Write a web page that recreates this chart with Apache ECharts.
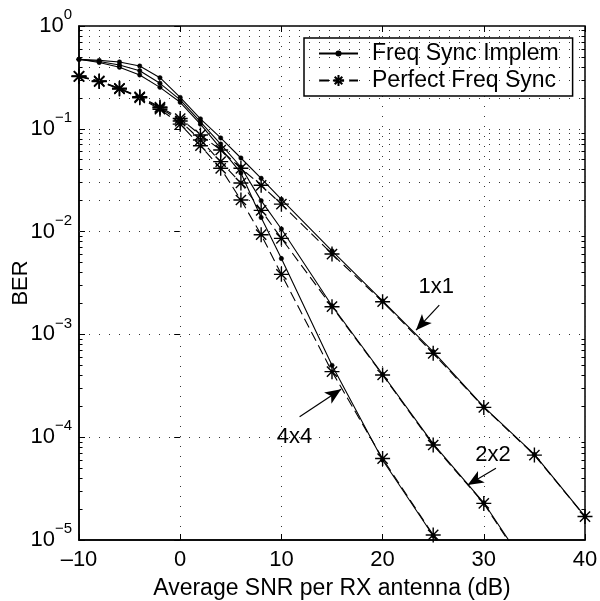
<!DOCTYPE html>
<html>
<head>
<meta charset="utf-8">
<script src="https://cdn.jsdelivr.net/npm/echarts@6/dist/echarts.min.js"></script>
<style>
    html, body { margin: 0; padding: 0; background: #fff; }
    #ber-chart { width: 600px; height: 601px; }
</style>
</head>
<body>
<div id="ber-chart"></div>
<script>
var snr = [-10, -8, -6, -4, -2, 0, 2, 4, 6, 8, 10, 15, 20, 25, 30, 35, 40];

// Freq Sync Implem (solid, dots)
var implem1x1 = [0.474, 0.463, 0.447, 0.408, 0.314, 0.202, 0.125, 0.0815, 0.052, 0.033, 0.0206, 0.0065, 0.00212, 6.8e-4, 1.97e-4, 6.8e-5, 1.7e-5];
var implem2x2 = [0.474, 0.451, 0.418, 0.367, 0.277, 0.191, 0.117, 0.0711, 0.0425, 0.020, 0.0106, 0.0019, 4.1e-4, 8.6e-5, 2.3e-5, 4.2e-6];
var implem4x4 = [0.474, 0.442, 0.397, 0.334, 0.253, 0.181, 0.111, 0.0646, 0.0372, 0.0137, 0.00547, 5.0e-4, 6.0e-5, 1.1e-5, 2.0e-6];

// Perfect Freq Sync (dashed, stars)
var perfect1x1 = [0.326, 0.292, 0.248, 0.205, 0.163, 0.126, 0.0871, 0.0622, 0.0413, 0.0282, 0.0185, 0.00605, 0.00208, 6.55e-4, 1.95e-4, 6.7e-5, 1.69e-5];
var perfect2x2 = [0.324, 0.290, 0.246, 0.203, 0.160, 0.119, 0.0778, 0.0479, 0.0297, 0.0161, 0.0086, 0.00186, 4.03e-4, 8.4e-5, 2.27e-5, 4.0e-6];
var perfect4x4 = [0.322, 0.288, 0.244, 0.200, 0.155, 0.111, 0.0685, 0.0413, 0.0203, 0.00933, 0.00384, 4.34e-4, 6.2e-5, 1.12e-5, 1.8e-6];

var decades = [-5, -4, -3, -2, -1];
var mantissas = [2, 3, 4, 5, 6, 7, 8, 9];

// annotations: label text + position, arrows [from, to]
var annoLabels = [
    {text: '1x1', at: [25.3, 2.89e-3]},
    {text: '2x2', at: [30.9, 6.7e-5]},
    {text: '4x4', at: [11.3, 1.01e-4]}
];
var annoArrows = [
    [[25.6, 1.93e-3], [23.3, 1.10e-3]],
    [[31.2, 4.98e-5], [28.4, 3.43e-5]],
    [[11.8, 1.58e-4], [15.9, 2.92e-4]]
];

var FONT = 'Liberation Sans';
var DOT = 'path://M0 0 M12 12 M6 3.8 A2.2 2.2 0 1 1 6 8.2 A2.2 2.2 0 1 1 6 3.8 Z';
var STAR = 'path://M5 0 L5 10 M0 5 L10 5 M1.6 1.6 L8.4 8.4 M8.4 1.6 L1.6 8.4';

function pairs(ys) {
    var out = [];
    for (var i = 0; i < ys.length; i++) {
        out.push([snr[i], ys[i]]);
    }
    return out;
}

function curve(name, ys, dashed) {
    return {
        name: name,
        type: 'line',
        data: pairs(ys),
        z: 3,
        symbol: dashed ? STAR : DOT,
        symbolSize: dashed ? 15 : 12,
        showAllSymbol: true,
        lineStyle: {color: '#000', width: 1.1, type: dashed ? [10, 5] : 'solid'},
        itemStyle: {color: '#000', borderColor: '#000', borderWidth: dashed ? 1.4 : 0.5},
        emphasis: {disabled: true},
        animation: false
    };
}

var minorLines = [];
var minorTicks = [];
decades.forEach(function (d) {
    mantissas.forEach(function (m) {
        var v = m * Math.pow(10, d);
        minorLines.push({yAxis: v});
        minorTicks.push([{coord: [-10, v]}, {coord: [-9.65, v]}]);
        minorTicks.push([{coord: [39.65, v]}, {coord: [40, v]}]);
    });
});

var arrowData = annoArrows.map(function (a) {
    return [
        {coord: a[0], symbol: 'none'},
        {coord: a[1], symbol: 'arrow', symbolSize: [10, 16]}
    ];
});

var labelData = annoLabels.map(function (l) {
    return {
        coord: l.at,
        symbolSize: 0,
        label: {show: true, position: 'inside', formatter: l.text, fontSize: 22, fontFamily: FONT, color: '#000'}
    };
});

function expLabel(v) {
    var e = Math.round(Math.log10(v));
    var s = e < 0 ? '\u2212' + (-e) : String(e);
    return '{b|10}{s|' + s + '}';
}

var dotted = {color: '#333', width: 1, type: [1, 9]};

var option = {
    backgroundColor: '#fff',
    animation: false,
    grid: {left: 79, right: 15, top: 26, bottom: 61, show: true, borderColor: '#000', borderWidth: 1.5, outerBoundsMode: 'none'},
    legend: {
        data: ['Freq Sync Implem', 'Perfect Freq Sync'],
        orient: 'vertical',
        left: 304,
        top: 38,
        padding: [4, 14, 4, 14],
        itemGap: 4,
        itemWidth: 39,
        itemHeight: 14,
        backgroundColor: '#fff',
        borderColor: '#000',
        borderWidth: 1.5,
        borderRadius: 0,
        selectedMode: false,
        textStyle: {fontSize: 23, fontFamily: FONT, color: '#000', lineHeight: 23, padding: [0, 0, 0, 9]}
    },
    xAxis: [{
        type: 'value',
        min: -10,
        max: 40,
        interval: 10,
        name: 'Average SNR per RX antenna (dB)',
        nameLocation: 'middle',
        nameGap: 37,
        nameMoveOverlap: false,
        nameTextStyle: {fontSize: 23, fontFamily: FONT, color: '#000'},
        axisLine: {onZero: false, lineStyle: {color: '#000', width: 1.5}},
        axisTick: {inside: true, length: 6, lineStyle: {color: '#000'}},
        axisLabel: {
            margin: 9, fontSize: 22, fontFamily: FONT, color: '#000',
            formatter: function (v) { return v < 0 ? '\u2013' + (-v) : String(v); }
        },
        splitLine: {show: true, lineStyle: dotted}
    }, {
        type: 'value',
        position: 'top',
        min: -10,
        max: 40,
        interval: 10,
        axisLine: {show: false},
        axisTick: {inside: true, length: 6, lineStyle: {color: '#000'}},
        axisLabel: {show: false},
        splitLine: {show: false}
    }],
    yAxis: [{
        type: 'log',
        logBase: 10,
        min: 1e-5,
        max: 1,
        name: 'BER',
        nameLocation: 'middle',
        nameGap: 47,
        nameMoveOverlap: false,
        nameRotate: 90,
        nameTextStyle: {fontSize: 22, fontFamily: FONT, color: '#000'},
        axisLine: {show: true, onZero: false, lineStyle: {color: '#000', width: 1.5}},
        axisTick: {inside: true, length: 6, lineStyle: {color: '#000'}},
        axisLabel: {
            margin: 7,
            formatter: expLabel,
            rich: {
                b: {fontSize: 22, fontFamily: FONT, color: '#000', lineHeight: 22, verticalAlign: 'middle'},
                s: {fontSize: 15, fontFamily: FONT, color: '#000', lineHeight: 15, padding: [0, 0, 22, 0], verticalAlign: 'middle'}
            }
        },
        splitLine: {show: true, lineStyle: dotted}
    }, {
        type: 'log',
        logBase: 10,
        min: 1e-5,
        max: 1,
        position: 'right',
        axisLine: {show: false},
        axisTick: {inside: true, length: 6, lineStyle: {color: '#000'}},
        axisLabel: {show: false},
        splitLine: {show: false}
    }],
    series: [
        {
            name: 'grid',
            type: 'line',
            data: [],
            z: 1,
            silent: true,
            markLine: {
                silent: true,
                symbol: 'none',
                label: {show: false},
                lineStyle: dotted,
                animation: false,
                data: minorLines
            }
        },
        {
            name: 'ticks',
            type: 'line',
            data: [],
            z: 2,
            silent: true,
            markLine: {
                silent: true,
                symbol: 'none',
                label: {show: false},
                lineStyle: {color: '#000', width: 1, type: 'solid'},
                animation: false,
                data: minorTicks
            }
        },
        {
            name: 'notes',
            type: 'line',
            data: [],
            z: 4,
            silent: true,
            markLine: {
                silent: true,
                label: {show: false},
                lineStyle: {color: '#000', width: 1.2, type: 'solid'},
                itemStyle: {color: '#000'},
                animation: false,
                data: arrowData
            },
            markPoint: {
                silent: true,
                animation: false,
                itemStyle: {color: 'transparent'},
                data: labelData
            }
        },
        curve('Freq Sync Implem', implem1x1, false),
        curve('Freq Sync Implem', implem2x2, false),
        curve('Freq Sync Implem', implem4x4, false),
        curve('Perfect Freq Sync', perfect1x1, true),
        curve('Perfect Freq Sync', perfect2x2, true),
        curve('Perfect Freq Sync', perfect4x4, true)
    ]
};

var berChart = echarts.init(document.getElementById('ber-chart'));
berChart.setOption(option);
</script>
</body>
</html>
